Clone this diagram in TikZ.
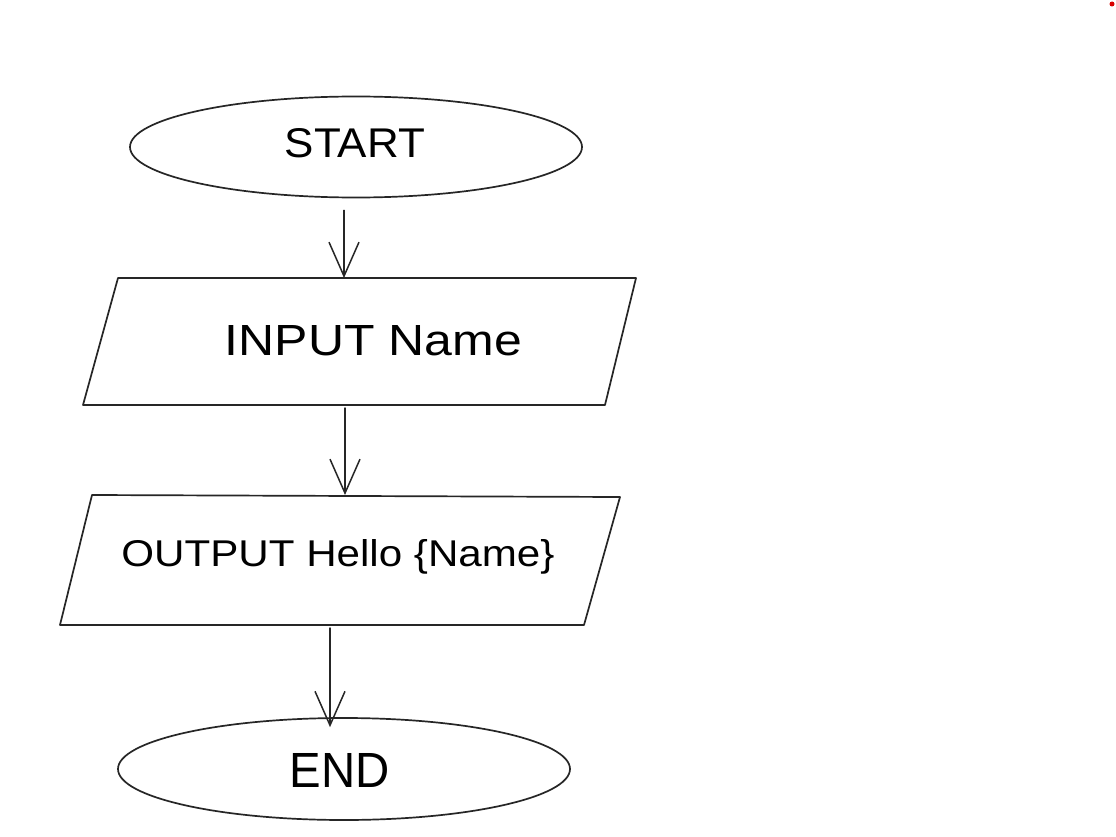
\documentclass[tikz,border=0pt]{standalone}
\usepackage{fontspec}
\usepackage{graphicx}
\setmainfont{Liberation Sans}
\usetikzlibrary{shapes.geometric,arrows.meta,calc}
\newcommand{\fittxt}[3]{\resizebox{#1}{#2}{#3}}
\begin{document}
\begin{tikzpicture}[x=1pt,y=-1pt,
  shapeline/.style={draw=black!85,line width=1.7pt,line join=round},
  oval/.style={shapeline,ellipse,inner sep=0pt},
  arr/.style={draw=black!85,line width=1.5pt,line cap=round,-{Straight Barb[length=34pt,width=30pt,line width=1.5pt]}},
  lbl/.style={inner sep=0pt,text=black}]
\fill[white] (0,0) rectangle (1116,837);
\fill[red!85!black] (1112,4) circle (2.5);
% ovals
\node[oval,minimum width=452pt,minimum height=101pt] (start) at (356,147) {};
\node[oval,minimum width=452pt,minimum height=102pt] (end) at (344,769) {};
% parallelogram corners
\coordinate (inpTL) at (118,278);
\coordinate (inpTR) at (636,278);
\coordinate (inpBR) at (605,405);
\coordinate (inpBL) at (83,405);
\coordinate (outTL) at (92,495);
\coordinate (outTR) at (620,497);
\coordinate (outBR) at (584,625);
\coordinate (outBL) at (60,625);
\draw[shapeline] (inpTL) -- (inpTR) -- (inpBR) -- (inpBL) -- cycle;
\draw[shapeline] (outTL) -- (outTR) -- (outBR) -- (outBL) -- cycle;
% connector ends
\coordinate (inpIn) at (344,278);
\coordinate (inpOut) at (345,408);
\coordinate (outIn) at (345,495);
\coordinate (outOut) at (330,628);
% labels
\node[lbl] (startl) at (355,143) {\fittxt{140pt}{29pt}{START}};
\node[lbl] (inpl) at (373.5,341) {\fittxt{297pt}{30pt}{INPUT Name}};
\node[lbl] (outpl) at (338,557) {\fittxt{433pt}{27pt}{OUTPUT Hello \{Name\}}};
\node[lbl] (endl) at (340,770) {\fittxt{100pt}{34pt}{END}};
% connectors
\draw[arr] ([xshift=-12pt,yshift=-12pt]start.south) -- (inpIn);
\draw[arr] (inpOut) -- (outIn);
\draw[arr] (outOut) -- ([xshift=-14pt,yshift=-10pt]end.north);
\end{tikzpicture}
\end{document}
